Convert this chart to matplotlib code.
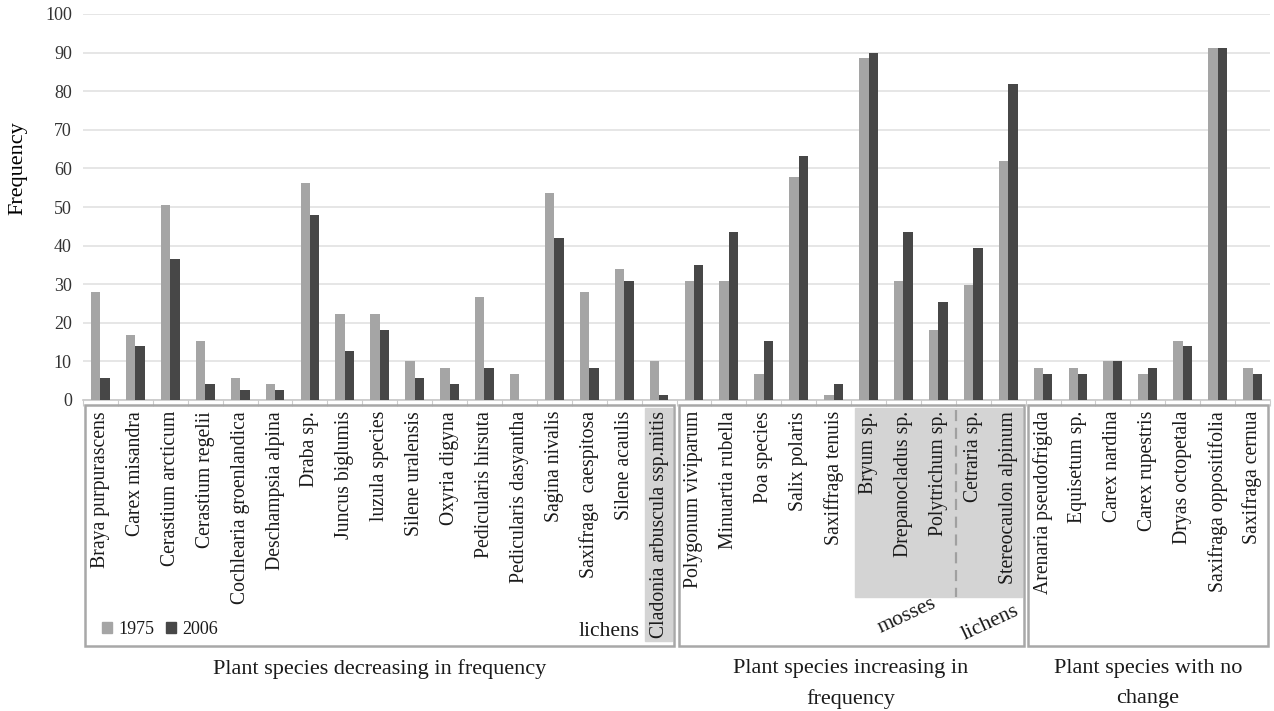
import matplotlib.pyplot as plt
import matplotlib.transforms as mtransforms
from matplotlib.patches import Rectangle
import numpy as np

species = [
    "Braya purpurascens", "Carex misandra", "Cerastium arcticum", "Cerastium regelii",
    "Cochlearia groenlandica", "Deschampsia alpina", "Draba sp.", "Juncus biglumis",
    "luzula species", "Silene uralensis", "Oxyria digyna", "Pedicularis hirsuta",
    "Pedicularis dasyantha", "Sagina nivalis", "Saxifraga  caespitosa", "Silene acaulis",
    "Cladonia arbuscula ssp.mitis",
    "Polygonum viviparum", "Minuartia rubella", "Poa species", "Salix polaris",
    "Saxiffraga tenuis", "Bryum sp.", "Drepanocladus sp.", "Polytrichum sp.",
    "Cetraria sp.", "Stereocaulon alpinum",
    "Arenaria pseudofrigida", "Equisetum sp.", "Carex nardina", "Carex rupestris",
    "Dryas octopetala", "Saxifraga oppositifolia", "Saxifraga cernua",
]
freq_1975 = [28.1, 16.9, 50.5, 15.4, 5.6, 4.1, 56.3, 22.3, 22.3, 10.0, 8.4, 26.6,
             6.7, 53.6, 28.1, 33.9, 10.0,
             30.7, 30.7, 6.7, 57.8, 1.2, 88.6, 30.7, 18.2, 29.7, 62.0,
             8.4, 8.4, 10.0, 6.7, 15.4, 91.3, 8.4]
freq_2006 = [5.6, 13.9, 36.6, 4.1, 2.6, 2.6, 47.8, 12.8, 18.2, 5.6, 4.1, 8.4,
             0.0, 42.0, 8.4, 30.7, 1.2,
             35.1, 43.5, 15.4, 63.3, 4.1, 89.9, 43.5, 25.4, 39.3, 81.8,
             6.7, 6.7, 10.0, 8.4, 13.9, 91.3, 6.7]
groups = ["Plant species decreasing in frequency",
          "Plant species increasing in\nfrequency",
          "Plant species with no\nchange"]
group_sizes = [17, 10, 7]
years = ["1975", "2006"]

C75 = "#a5a5a5"
C06 = "#474747"
EDGE = "#a8a8a8"
SERIF = ["Liberation Serif", "DejaVu Serif"]

plt.rcParams["font.family"] = SERIF

W, H = 1274, 711
fig = plt.figure(figsize=(W / 100, H / 100), dpi=100)
ax = fig.add_axes([83 / W, 1 - 400 / H, (1270 - 83) / W, (400 - 14) / H])

n = len(species)
x = np.arange(n)
bw = 0.27
ax.bar(x - bw / 2, freq_1975, bw, color=C75, zorder=3)
ax.bar(x + bw / 2, freq_2006, bw, color=C06, zorder=3)

ax.set_xlim(-0.5, n - 0.5)
ax.set_ylim(0, 100)
ax.set_yticks(range(0, 101, 10))
ax.tick_params(axis="y", labelsize=13, length=0, pad=8, colors="#333333")
ax.set_xticks(np.arange(n + 1) - 0.5)
ax.set_xticklabels([])
ax.tick_params(axis="x", length=4, color="#cccccc", direction="out")
ax.grid(axis="y", color="#e2e2e2", linewidth=1.2, zorder=0)
for s in ["top", "right", "left"]:
    ax.spines[s].set_visible(False)
ax.spines["bottom"].set_color("#c8c8c8")
ax.spines["bottom"].set_linewidth(1.2)
ax.set_ylabel("Frequency", fontsize=16)
ax.yaxis.set_label_coords(-0.047, 0.60)

# data-x / figure-y transform for the area under the axes
tr = mtransforms.blended_transform_factory(ax.transData, fig.transFigure)

def fy(py):
    return 1 - py / H

# group boxes
box_top, box_bot = fy(405), fy(646)
start = 0
for gi, (g, size) in enumerate(zip(groups, group_sizes)):
    x0 = start - 0.5 + (0.06 if gi else 0.05)
    x1 = start + size - 0.5 - 0.06
    fig.patches.append(Rectangle((x0, box_bot), x1 - x0, box_top - box_bot,
                                 transform=tr, fill=False, edgecolor=EDGE,
                                 linewidth=1.8))
    fig.text(start + (size - 1) / 2, fy(659), g, transform=tr, ha="center",
             va="top", fontsize=16, linespacing=1.75, color="#1a1a1a")
    start += size

# shaded areas (lichens / mosses)
fig.patches.append(Rectangle((15.6, fy(641)), 0.78, fy(408) - fy(641),
                             transform=tr, color="#d4d4d4", zorder=0))
fig.patches.append(Rectangle((21.6, fy(597)), 26.4 - 21.6, fy(408) - fy(597),
                             transform=tr, color="#d4d4d4", zorder=0))
fig.lines.append(plt.Line2D([24.5, 24.5], [fy(410), fy(597)], transform=tr,
                            color="#a0a0a0", linewidth=1.6, linestyle=(0, (5, 3))))

# species labels
for i, name in enumerate(species):
    fig.text(i, fy(411), name, transform=tr, rotation=90, ha="center",
             va="top", fontsize=14.2, color="#1a1a1a")

fig.text(15.45, fy(632), "lichens", transform=tr, ha="right", va="center",
         fontsize=15.5, color="#1a1a1a")
fig.text(23.1, fy(616), "mosses", transform=tr, ha="center", va="center",
         fontsize=15.5, rotation=25, color="#1a1a1a")
fig.text(25.5, fy(623), "lichens", transform=tr, ha="center", va="center",
         fontsize=15.5, rotation=25, color="#1a1a1a")

# legend inside the first box
for yr, col, px in zip(years, [C75, C06], [102, 166]):
    fig.patches.append(Rectangle((px / W, fy(633)), 10 / W, 11 / H,
                                 transform=fig.transFigure, color=col))
    fig.text((px + 16) / W, fy(630), yr, ha="left", va="center",
             fontsize=13, color="#1a1a1a")

fig.savefig("out.png", dpi=100)
